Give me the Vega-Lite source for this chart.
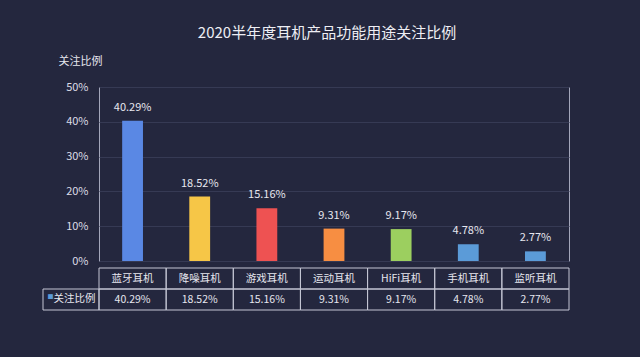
{
  "$schema": "https://vega.github.io/schema/vega-lite/v6.json",
  "background": "#24273e",
  "padding": {"left": 42, "right": 72, "top": 25, "bottom": 60},
  "title": {
    "text": "2020半年度耳机产品功能用途关注比例",
    "fontSize": 15,
    "fontWeight": "normal",
    "color": "#eeeef4",
    "anchor": "middle",
    "dx": 21,
    "offset": 14
  },
  "data": {
    "values": [
      {"name": "蓝牙耳机", "value": 0.4029},
      {"name": "降噪耳机", "value": 0.1852},
      {"name": "游戏耳机", "value": 0.1516},
      {"name": "运动耳机", "value": 0.0931},
      {"name": "HiFi耳机", "value": 0.0917},
      {"name": "手机耳机", "value": 0.0478},
      {"name": "监听耳机", "value": 0.0277}
    ]
  },
  "spacing": 0,
  "resolve": {"scale": {"x": "independent", "y": "independent", "color": "independent"}},
  "vconcat": [
    {
      "spacing": 0,
      "bounds": "flush",
      "resolve": {"scale": {"x": "independent", "y": "independent", "color": "independent"}},
      "hconcat": [
        {
          "width": 56,
          "height": 174,
          "data": {"values": []},
          "mark": "point",
          "encoding": {}
        },
        {
          "width": 470,
          "height": 174,
          "view": {"stroke": "#a3a6ba", "strokeWidth": 1},
          "encoding": {
            "x": {
              "field": "name",
              "type": "nominal",
              "sort": null,
              "scale": {"paddingInner": 0, "paddingOuter": 0},
              "axis": null
            },
            "y": {
              "field": "value",
              "type": "quantitative",
              "scale": {"domain": [0, 0.5], "nice": false},
              "axis": {
                "values": [0, 0.1, 0.2, 0.3, 0.4, 0.5],
                "format": ".0%",
                "ticks": false,
                "domain": false,
                "grid": true,
                "gridColor": "#363a54",
                "gridWidth": 1,
                "labelColor": "#dcdce6",
                "labelFontSize": 11,
                "labelPadding": 11,
                "title": "关注比例",
                "titleAngle": 0,
                "titleAlign": "center",
                "titleBaseline": "middle",
                "titleX": -19,
                "titleY": -26,
                "titleFontSize": 11,
                "titleFontWeight": "normal",
                "titleColor": "#e6e6ee"
              }
            }
          },
          "layer": [
            {
              "mark": {"type": "bar", "width": {"band": 0.31}},
              "encoding": {
                "color": {
                  "field": "name",
                  "type": "nominal",
                  "sort": null,
                  "scale": {
                    "domain": ["蓝牙耳机", "降噪耳机", "游戏耳机", "运动耳机", "HiFi耳机", "手机耳机", "监听耳机"],
                    "range": ["#5a88e4", "#f6c647", "#ee5252", "#f78e42", "#9ccf5f", "#5b9bd8", "#5b9bd8"]
                  },
                  "legend": null
                }
              }
            },
            {
              "mark": {"type": "text", "baseline": "alphabetic", "dy": -10, "fontSize": 11, "color": "#e6e6ee"},
              "encoding": {
                "text": {"field": "value", "type": "quantitative", "format": ".2%"}
              }
            }
          ]
        }
      ]
    },
    {
      "spacing": 0,
      "bounds": "flush",
      "resolve": {"scale": {"x": "independent", "y": "independent", "color": "independent"}},
      "hconcat": [
        {
          "width": 56,
          "height": 42,
          "data": {"values": [{"series": "关注比例"}]},
          "encoding": {
            "x": {
              "field": "series",
              "type": "nominal",
              "scale": {"paddingInner": 0, "paddingOuter": 0},
              "axis": null
            },
            "y": {
              "datum": "r2",
              "type": "nominal",
              "scale": {"domain": ["r1", "r2"], "paddingInner": 0, "paddingOuter": 0},
              "axis": null
            }
          },
          "layer": [
            {
              "mark": {"type": "rect", "filled": false, "stroke": "#c4c6d4", "strokeWidth": 1}
            },
            {
              "mark": {"type": "text", "text": "■", "fontSize": 6, "dx": -20.5, "dy": -2.5, "color": "#5b9bd8"}
            },
            {
              "mark": {"type": "text", "fontSize": 10.5, "dx": 3.5, "dy": -1, "color": "#e6e6ee"},
              "encoding": {"text": {"field": "series"}}
            }
          ]
        },
        {
          "width": 470,
          "height": 42,
          "encoding": {
            "x": {
              "field": "name",
              "type": "nominal",
              "sort": null,
              "scale": {"paddingInner": 0, "paddingOuter": 0},
              "axis": null
            }
          },
          "layer": [
            {
              "mark": {"type": "rect", "filled": false, "stroke": "#c4c6d4", "strokeWidth": 1},
              "encoding": {
                "y": {"datum": "r1", "type": "nominal", "scale": {"domain": ["r1", "r2"], "paddingInner": 0, "paddingOuter": 0}, "axis": null}
              }
            },
            {
              "mark": {"type": "rect", "filled": false, "stroke": "#c4c6d4", "strokeWidth": 1},
              "encoding": {
                "y": {"datum": "r2", "type": "nominal", "axis": null}
              }
            },
            {
              "mark": {"type": "text", "fontSize": 10.5, "color": "#e6e6ee"},
              "encoding": {
                "y": {"datum": "r1", "type": "nominal", "axis": null},
                "text": {"field": "name"}
              }
            },
            {
              "mark": {"type": "text", "fontSize": 10.5, "color": "#e6e6ee"},
              "encoding": {
                "y": {"datum": "r2", "type": "nominal", "axis": null},
                "text": {"field": "value", "type": "quantitative", "format": ".2%"}
              }
            }
          ]
        }
      ]
    }
  ],
  "config": {
    "font": "Noto Sans CJK SC",
    "view": {"stroke": null}
  }
}
